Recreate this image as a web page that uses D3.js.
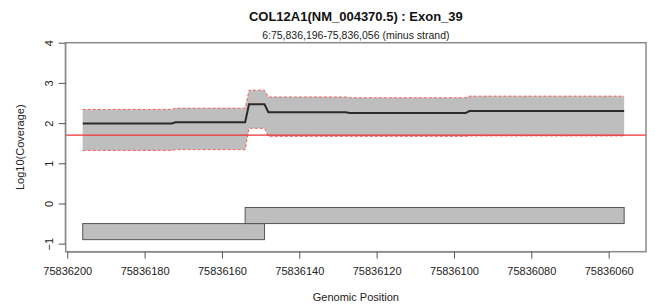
<!DOCTYPE html>
<html><head><meta charset="utf-8">
<script src="https://cdn.jsdelivr.net/npm/d3@7"></script>
<style>body{margin:0;background:#fff}svg{display:block}text{font-family:"Liberation Sans",Arial,Helvetica,sans-serif}</style>
</head><body>
<script>
const titleText = "COL12A1(NM_004370.5) : Exon_39";
const subtitleText = "6:75,836,196-75,836,056 (minus strand)";
const positions = [75836196, 75836173, 75836172, 75836154, 75836153, 75836149, 75836148, 75836128, 75836127, 75836097, 75836096, 75836056];
const median = [1.99, 1.99, 2.02, 2.02, 2.47, 2.47, 2.27, 2.27, 2.25, 2.25, 2.30, 2.30];
const upper  = [2.34, 2.34, 2.37, 2.37, 2.82, 2.82, 2.65, 2.65, 2.63, 2.63, 2.67, 2.67];
const lower  = [1.32, 1.32, 1.34, 1.34, 1.87, 1.87, 1.67, 1.67, 1.67, 1.67, 1.68, 1.68];
const threshold = Math.log10(50);
const exonStart = [75836196, 75836154];
const exonEnd   = [75836149, 75836056];
const exonBottom = [-0.9, -0.5];
const exonTop    = [-0.5, -0.1];
const xTicks = [75836200, 75836180, 75836160, 75836140, 75836120, 75836100, 75836080, 75836060];
const yTicks = [-1, 0, 1, 2, 3, 4];

const W = 655, H = 308;
const L = 65.7, R = 646, T = 42.7, B = 251.7;
const svg = d3.select("body").append("svg").attr("width", W).attr("height", H);

const x = d3.scaleLinear().domain([75836200.4, 75836050.35]).range([L, R]);
const y = d3.scaleLinear().domain([-1.2, 4]).range([B, T]);

const pts = positions.map((p, i) => ({p, m: median[i], u: upper[i], l: lower[i]}));

// band
svg.append("path").datum(pts)
  .attr("d", d3.area().x(d => x(d.p)).y0(d => y(d.l)).y1(d => y(d.u)))
  .attr("fill", "#bebebe");
["u", "l"].forEach(k => {
  svg.append("path").datum(pts)
    .attr("d", d3.line().x(d => x(d.p)).y(d => y(d[k])))
    .attr("fill", "none").attr("stroke", "rgba(255,60,60,0.8)")
    .attr("stroke-width", 1).attr("stroke-dasharray", "3,2");
});
// median
svg.append("path").datum(pts)
  .attr("d", d3.line().x(d => x(d.p)).y(d => y(d.m)))
  .attr("fill", "none").attr("stroke", "#2a2a2a").attr("stroke-width", 2);

// threshold
svg.append("line").attr("x1", L).attr("x2", R)
  .attr("y1", y(threshold)).attr("y2", y(threshold))
  .attr("stroke", "#f03030").attr("stroke-width", 1.3);

// exons
exonStart.forEach((s, i) => {
  svg.append("rect")
    .attr("x", x(s)).attr("width", x(exonEnd[i]) - x(s))
    .attr("y", y(exonTop[i])).attr("height", y(exonBottom[i]) - y(exonTop[i]))
    .attr("fill", "#bebebe").attr("stroke", "#555").attr("stroke-width", 1);
});

// box
svg.append("rect").attr("x", L).attr("y", T).attr("width", R - L).attr("height", B - T)
  .attr("fill", "none").attr("stroke", "#8a8a8a").attr("stroke-width", 1.5);

// x axis
const xa = svg.append("g").attr("transform", `translate(0,${B})`)
  .call(d3.axisBottom(x).tickValues(xTicks).tickFormat(d3.format("d")).tickSize(7).tickSizeOuter(0));
xa.select(".domain").attr("stroke", "#8a8a8a").attr("d", `M${x(xTicks[0])},0.5H${x(xTicks[xTicks.length-1])}`);
xa.selectAll(".tick line").attr("stroke", "#555");
xa.selectAll("text").attr("font-size", 11).attr("fill", "#222").attr("dy", "1.25em")
  .style("font-family", "Liberation Sans, Arial, sans-serif");

// y axis
const ya = svg.append("g").attr("transform", `translate(${L},0)`)
  .call(d3.axisLeft(y).tickValues(yTicks).tickFormat(d3.format("d")).tickSize(7).tickSizeOuter(0));
ya.select(".domain").attr("stroke", "#8a8a8a").attr("d", `M-0.5,${y(-1)}V${y(4)}`);
ya.selectAll(".tick line").attr("stroke", "#555");
ya.selectAll(".tick text").remove();
ya.selectAll(".tick").append("text")
  .attr("transform", "translate(-17,0) rotate(-90)")
  .attr("text-anchor", "middle").attr("dy", "0.35em")
  .attr("font-size", 11).attr("fill", "#222")
  .style("font-family", "Liberation Sans, Arial, sans-serif")
  .text(d => d3.format("d")(d).replace("-", "-"));

// titles
const cx = (L + R) / 2;
svg.append("text").attr("x", cx).attr("y", 21).attr("text-anchor", "middle")
  .attr("font-size", 13).attr("font-weight", "bold").attr("fill", "#111").text(titleText);
svg.append("text").attr("x", cx).attr("y", 39).attr("text-anchor", "middle")
  .attr("font-size", 10.5).attr("fill", "#222").text(subtitleText);
svg.append("text").attr("x", cx).attr("y", 301).attr("text-anchor", "middle")
  .attr("font-size", 11).attr("fill", "#222").text("Genomic Position");
svg.append("text").attr("transform", `translate(24,${(T + B) / 2}) rotate(-90)`)
  .attr("text-anchor", "middle").attr("font-size", 11).attr("fill", "#222").text("Log10(Coverage)");
</script>
</body></html>
